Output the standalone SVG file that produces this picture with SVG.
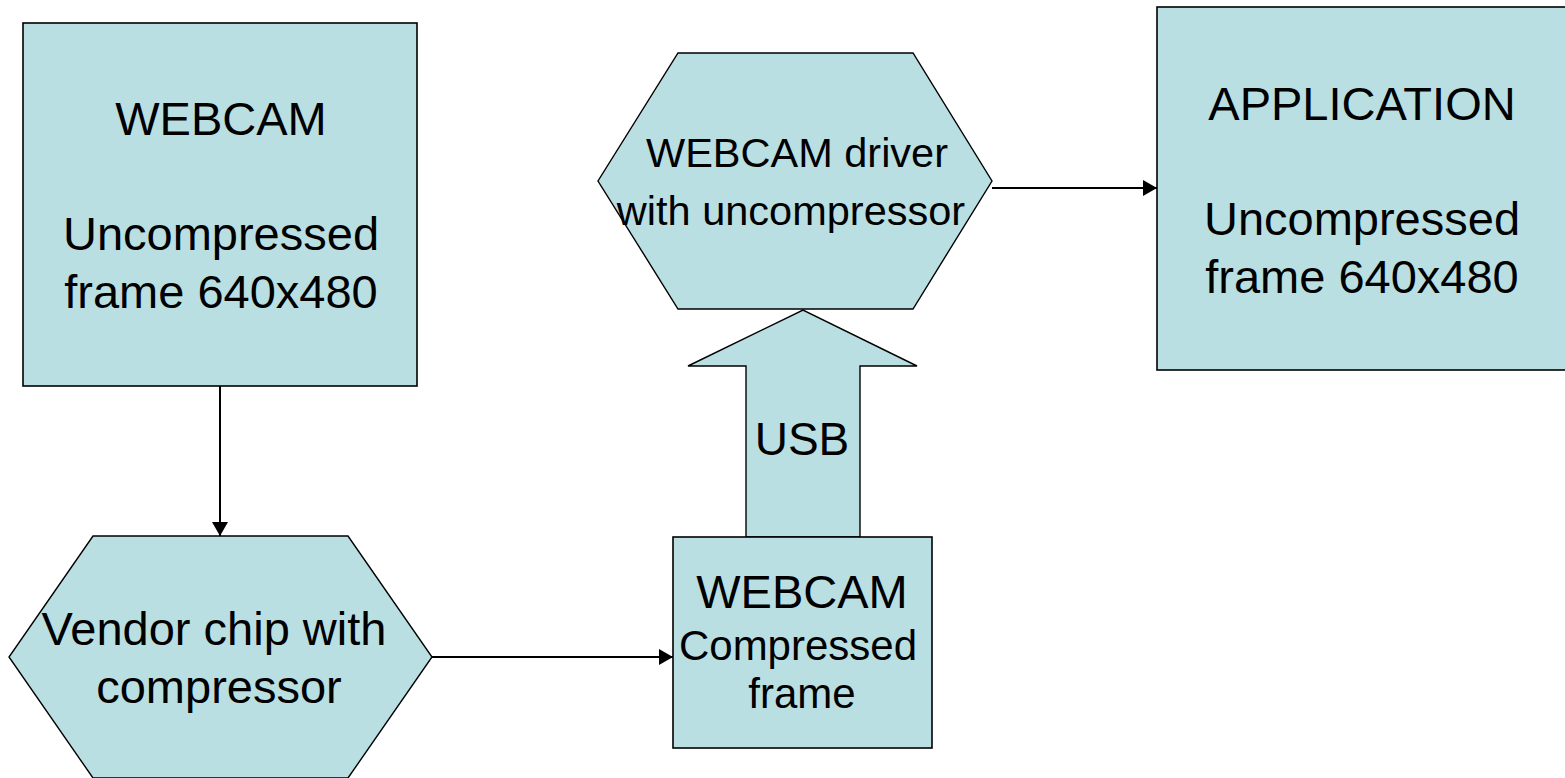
<svg xmlns="http://www.w3.org/2000/svg" width="1565" height="778" viewBox="0 0 1565 778">
<style>
.shape{fill:#B9DFE3;stroke:#000;stroke-width:1.6}
.hex{fill:#B9DFE3;stroke:#000;stroke-width:1.4;stroke-linejoin:miter}
.t{font-family:"Liberation Sans",Arial,sans-serif;fill:#000;text-anchor:middle}
.big{font-size:47px}
.mid{font-size:42px}
.conn{stroke:#000;stroke-width:2;fill:none}
</style>
<defs>
<marker id="ah" viewBox="0 0 10 10" refX="10" refY="5" markerWidth="8" markerHeight="8" markerUnits="userSpaceOnUse" orient="auto">
<path d="M0,0 L10,5 L0,10 Z" fill="#000"/>
</marker>
<marker id="ahb" viewBox="0 0 14 16" refX="14" refY="8" markerWidth="14" markerHeight="16" markerUnits="userSpaceOnUse" orient="auto">
<path d="M0,0 L14,8 L0,16 Z" fill="#000"/>
</marker>
</defs>
<rect width="1565" height="778" fill="#fff"/>
<g id="connectors">
<line class="conn" x1="220" y1="386" x2="220" y2="536" marker-end="url(#ahb)"/>
<line class="conn" x1="432" y1="657" x2="673" y2="657" marker-end="url(#ahb)"/>
<line class="conn" x1="992" y1="188" x2="1157" y2="188" marker-end="url(#ahb)"/>
</g>
<g id="webcam">
<rect class="shape" x="23" y="23" width="394" height="363"/>
<text class="t big" x="221" y="135">WEBCAM</text>
<text class="t big" x="221" y="250">Uncompressed</text>
<text class="t big" x="221" y="308">frame 640x480</text>
</g>
<g id="vendor-chip">
<polygon class="hex" points="93,536 348,536 432,657 348,778 93,778 9,657"/>
<text class="t big" x="214" y="645">Vendor chip with</text>
<text class="t big" x="219" y="703">compressor</text>
</g>
<g id="usb">
<polygon class="hex" points="746,537 746,366 688,366 803,310 917,366 860,366 860,537"/>
<text class="t" style="font-size:46px" x="802" y="455">USB</text>
</g>
<g id="webcam-compressed">
<rect class="shape" x="673" y="537" width="259" height="211"/>
<text class="t big" x="802" y="608">WEBCAM</text>
<text class="t mid" x="798" y="660">Compressed</text>
<text class="t mid" x="802" y="708">frame</text>
</g>
<g id="driver">
<polygon class="hex" points="678,53 913,53 992,181 913,309 678,309 598,181"/>
<text class="t" style="font-size:41.5px" x="797" y="167">WEBCAM driver</text>
<text class="t" style="font-size:41.5px" x="791" y="225">with uncompressor</text>
</g>
<g id="application">
<rect class="shape" x="1157" y="7" width="420" height="363"/>
<text class="t big" x="1362" y="120">APPLICATION</text>
<text class="t big" x="1362" y="235">Uncompressed</text>
<text class="t big" x="1362" y="293">frame 640x480</text>
</g>
</svg>
